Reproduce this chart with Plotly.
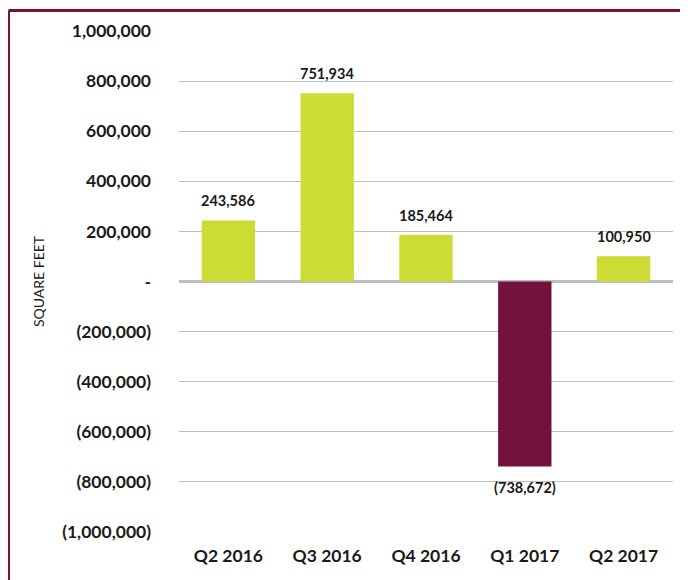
import plotly.graph_objects as go

categories = ["Q2 2016", "Q3 2016", "Q4 2016", "Q1 2017", "Q2 2017"]
values = [243586, 751934, 185464, -738672, 100950]
label_texts = ["243,586", "751,934", "185,464", "(738,672)", "100,950"]
tick_vals = [1000000, 800000, 600000, 400000, 200000, 0, -200000, -400000, -600000, -800000, -1000000]
tick_text = ["1,000,000", "800,000", "600,000", "400,000", "200,000", "-",
             "(200,000)", "(400,000)", "(600,000)", "(800,000)", "(1,000,000)"]

GREEN = "#CDDC32"
MAROON = "#72123F"
FONT = "Lato"
TXT = "#1A1A1A"

colors = [GREEN if v >= 0 else MAROON for v in values]

fig = go.Figure()
fig.add_trace(go.Bar(
    x=categories, y=values, marker=dict(color=colors, line=dict(width=0)),
    hoverinfo="skip", showlegend=False,
))

for c, v, t in zip(categories, values, label_texts):
    fig.add_annotation(x=c, y=v, text=t, showarrow=False,
                       yshift=20 if v >= 0 else -21,
                       font=dict(family=FONT, size=14.5, color=TXT, weight="bold"))

# page body offsets the figure by 8px; margins account for it
W, H = 688, 580
ml, mr, mt, mb = 171, 23, 21, 56
pw, ph = W - ml - mr, H - mt - mb

def px(xp):
    return (xp - ml) / pw

def py(yp):
    return (H - mb - yp) / ph

# frame (left and top maroon border)
fig.add_shape(type="line", xref="paper", yref="paper",
              x0=px(0.5), x1=px(0.5), y0=py(0.5), y1=py(H),
              line=dict(color=MAROON, width=3))
fig.add_shape(type="line", xref="paper", yref="paper",
              x0=px(0.5), x1=px(W), y0=py(0.5), y1=py(0.5),
              line=dict(color=MAROON, width=3))

fig.update_layout(
    width=W, height=H,
    margin=dict(l=ml, r=mr, t=mt, b=mb),
    paper_bgcolor="white", plot_bgcolor="white",
    bargap=0.46,
    font=dict(family=FONT, color=TXT),
    xaxis=dict(
        showgrid=False, zeroline=False, showline=False,
        tickfont=dict(family=FONT, size=17.5, weight="bold", color=TXT),
        ticks="", ticklabelstandoff=11,
    ),
    yaxis=dict(
        range=[-1000000, 1000000],
        tickvals=tick_vals, ticktext=tick_text,
        tickfont=dict(family=FONT, size=17.5, weight="bold", color=TXT),
        showgrid=True, gridcolor="#BFBFBF", gridwidth=1.3,
        zeroline=True, zerolinecolor="#BFBFBF", zerolinewidth=3,
        ticks="", ticklabelstandoff=27,
        title=dict(text="SQUARE FEET", font=dict(family=FONT, size=14, color=TXT),
                   standoff=14),
    ),
)

fig.write_html("out.html")
